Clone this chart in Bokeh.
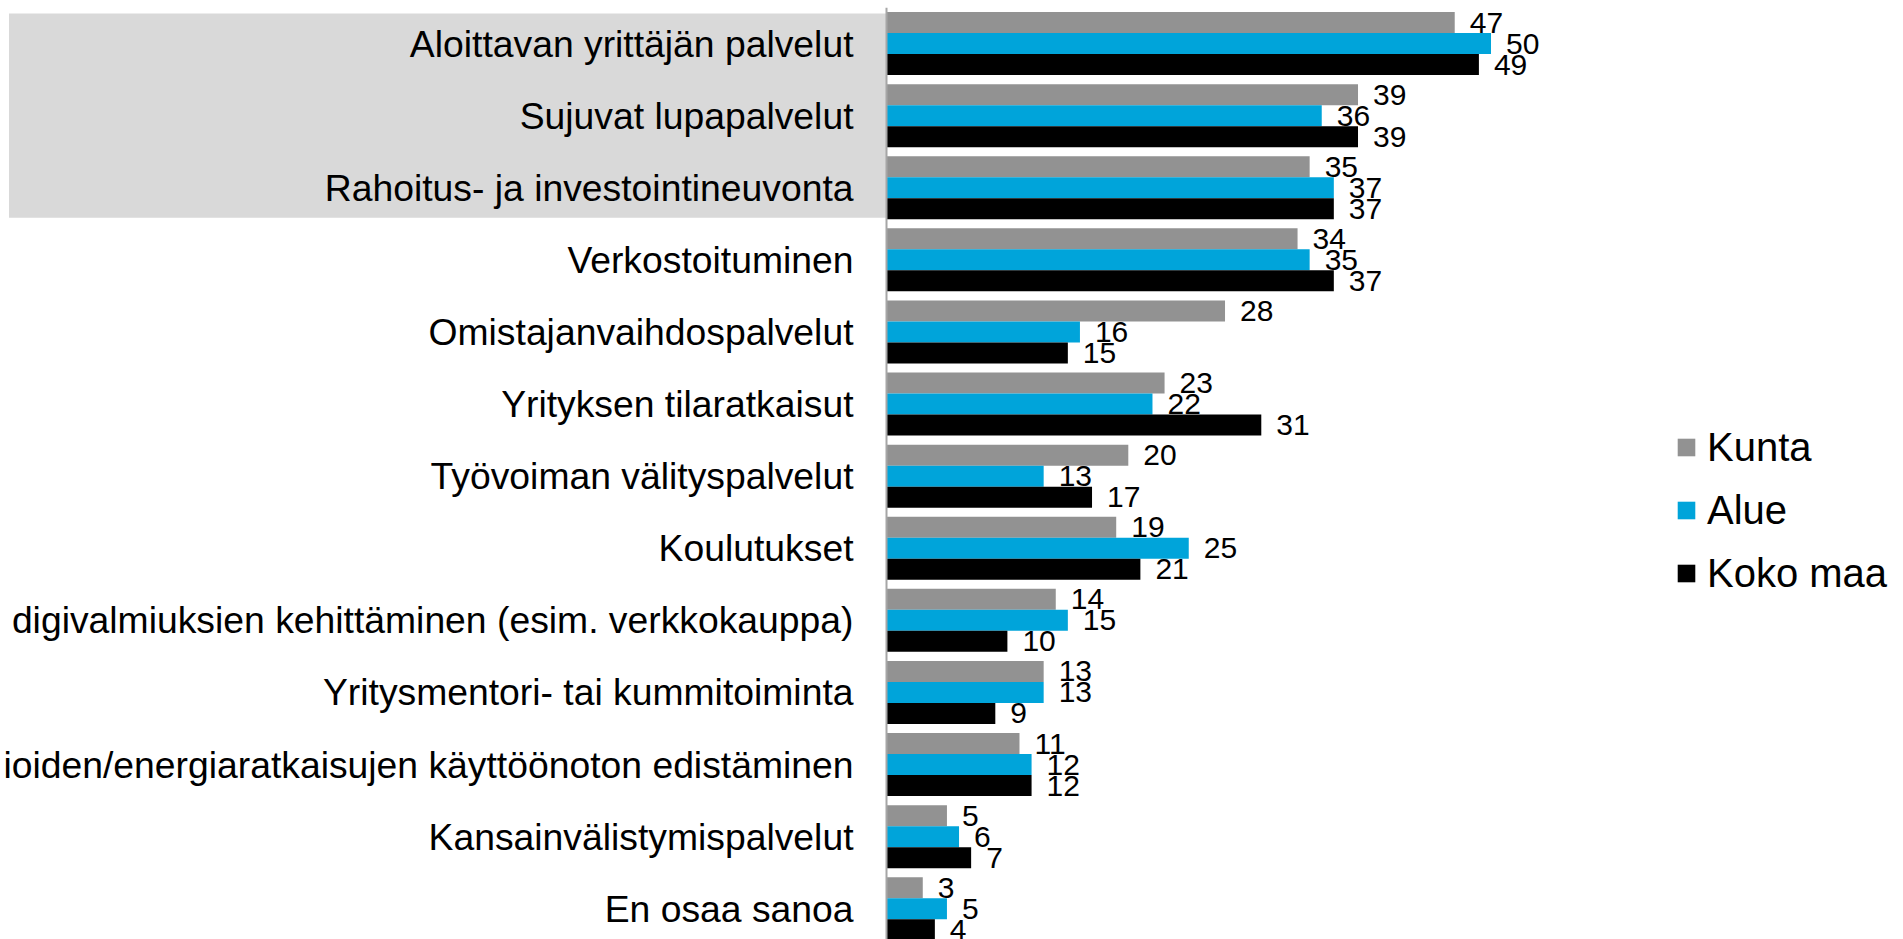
from bokeh.plotting import figure
from bokeh.models import Range1d, FixedTicker, Legend, LegendItem, ColumnDataSource
from bokeh.core.properties import value
from bokeh.embed import file_html
from bokeh.resources import INLINE

# ---------------- data ----------------
categories = [
    "Aloittavan yrittäjän palvelut",
    "Sujuvat lupapalvelut",
    "Rahoitus- ja investointineuvonta",
    "Verkostoituminen",
    "Omistajanvaihdospalvelut",
    "Yrityksen tilaratkaisut",
    "Työvoiman välityspalvelut",
    "Koulutukset",
    "digivalmiuksien kehittäminen (esim. verkkokauppa)",
    "Yritysmentori- tai kummitoiminta",
    "ioiden/energiaratkaisujen käyttöönoton edistäminen",
    "Kansainvälistymispalvelut",
    "En osaa sanoa",
]
kunta = [47, 39, 35, 34, 28, 23, 20, 19, 14, 13, 11, 5, 3]
alue = [50, 36, 37, 35, 16, 22, 13, 25, 15, 13, 12, 6, 5]
koko_maa = [49, 39, 37, 37, 15, 31, 17, 21, 10, 9, 12, 7, 4]
series_names = ["Kunta", "Alue", "Koko maa"]
highlighted = [0, 1, 2]  # categories inside the grey box

# ---------------- styling / layout ----------------
colors = ["#929292", "#00A4DA", "#000000"]
FONT = "Liberation Sans"
W, H = 1903, 939
ZERO_PX = 886       # x pixel of value 0 (axis line)
BOX_LEFT_PX = 8.5   # left edge of grey highlight box
TOP = 7             # top of plotting frame
PX_X = 12.09        # pixels per percentage point
PX_CAT = 72.1       # pixels per category
BAR_H = 21.0 / PX_CAT

y_end = -0.5
y_start = y_end + (H - TOP) / PX_CAT
x_start = -ZERO_PX / PX_X
x_end = (W - ZERO_PX) / PX_X

p = figure(width=W, height=H, output_backend="svg", toolbar_location=None,
           x_range=Range1d(x_start, x_end), y_range=Range1d(y_start, y_end),
           x_axis_location=None,
           min_border_left=0, min_border_right=0,
           min_border_top=TOP, min_border_bottom=0)
p.outline_line_color = None
p.grid.visible = False
p.background_fill_color = "white"
p.border_fill_color = "white"

# grey highlight box behind the first three labels
p.quad(left=[-(ZERO_PX - BOX_LEFT_PX) / PX_X], right=[0],
       top=[min(highlighted) - 0.5 + 6 / PX_CAT],
       bottom=[max(highlighted) + 0.5 - 6 / PX_CAT],
       fill_color="#D9D9D9", line_color=None)

offsets = [-BAR_H, 0.0, BAR_H]
series = [kunta, alue, koko_maa]
renderers = []
for vals, off, col, name in zip(series, offsets, colors, series_names):
    src = ColumnDataSource(dict(
        y=[i + off for i in range(len(categories))],
        v=vals,
        t=[str(v) for v in vals],
    ))
    r = p.hbar(y="y", left=0, right="v", height=BAR_H, source=src,
               fill_color=col, line_color=None)
    renderers.append(r)
    p.text(x="v", y="y", text="t", source=src, x_offset=15,
           text_baseline="middle", text_align="left",
           text_font=value(FONT), text_font_size="30px", text_color="black")

yax = p.yaxis[0]
yax.fixed_location = 0
yax.ticker = FixedTicker(ticks=list(range(len(categories))))
yax.major_label_overrides = {i: c for i, c in enumerate(categories)}
yax.major_tick_line_color = None
yax.minor_tick_line_color = None
yax.major_tick_out = 0
yax.major_tick_in = 0
yax.axis_line_color = "#A6A6A6"
yax.axis_line_width = 2
yax.major_label_standoff = 33
yax.major_label_text_font = FONT
yax.major_label_text_font_size = "37.3px"
yax.major_label_text_color = "black"

legend = Legend(items=[LegendItem(label=n, renderers=[r]) for n, r in zip(series_names, renderers)],
                location=(1675, 343), orientation="vertical",
                glyph_width=22, glyph_height=22, label_height=46,
                label_standoff=10, spacing=17, padding=0, margin=0,
                label_text_font=FONT, label_text_font_size="40px",
                label_text_color="black",
                border_line_color=None, background_fill_alpha=0)
p.add_layout(legend)

open("out.html", "w").write(file_html(p, INLINE))
